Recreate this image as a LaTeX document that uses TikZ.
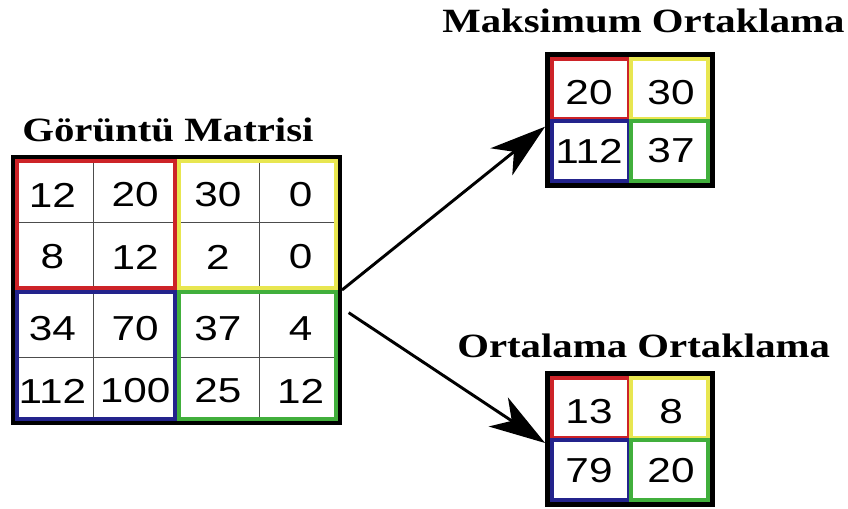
\documentclass[tikz,border=0pt]{standalone}
\usepackage{fontspec}
\setmainfont{Liberation Serif}
\newfontfamily\rakam[FakeStretch=1.22]{Liberation Sans}
\newfontfamily\baslikfont[FakeStretch=1.2]{Liberation Serif Bold}
\usetikzlibrary{arrows.meta}

\definecolor{kirmizi}{RGB}{205,35,40}
\definecolor{sari}{RGB}{232,230,80}
\definecolor{mavi}{RGB}{35,35,140}
\definecolor{yesil}{RGB}{65,175,60}

\begin{document}
\begin{tikzpicture}[x=0.75pt, y=-0.75pt,
    sayi/.style={font=\rakam\fontsize{26}{26}\selectfont, inner sep=0pt},
    baslik/.style={font=\baslikfont\fontsize{25.5}{25.5}\selectfont, anchor=base west, inner sep=0pt},
    cerceve/.style={draw=black, line width=3pt, inner sep=0pt},
    ince/.style={draw=black!70, line width=0.9pt},
    renkli/.style={line width=3pt},
    ok/.style={line width=2.2pt, -{Stealth[length=42pt, width=26pt, inset=12pt]}}]
    \useasboundingbox[fill=white] (0,0) rectangle (848,508);

    % giris matrisi
    \foreach \x in {93.75,259.25} \draw[ince] (\x,157) -- (\x,423);
    \foreach \y in {222.5,357.5} \draw[ince] (13,\y) -- (340,\y);
    \draw[renkli, kirmizi] (17,161) rectangle (174.5,288);
    \draw[renkli, sari] (178.5,161) rectangle (336,288);
    \draw[renkli, mavi] (17,292) rectangle (174.5,419);
    \draw[renkli, yesil] (178.5,292) rectangle (336,419);
    \node[cerceve, minimum width=245.25pt, minimum height=199.5pt] (goruntu) at (176.5,290) {};
    \foreach \y/\liste [count=\r] in {195/{12,20,30,0}, 257/{8,12,2,0}, 329/{34,70,37,4}, 391/{112,100,25,12}}
        \foreach \d [count=\c] in \liste
            \node[sayi] (g-\r-\c) at ({11+82.75*(\c-0.5)},\y) {\d};
    \node[baslik] (gbaslik) at (22,141) {Görüntü Matrisi};

    % maksimum ortaklama
    \draw[renkli, kirmizi] (552,59) rectangle (629,119);
    \draw[renkli, sari] (631,59) rectangle (708,119);
    \draw[renkli, mavi] (552,121) rectangle (629,181);
    \draw[renkli, yesil] (631,121) rectangle (708,181);
    \node[cerceve, line width=3.6pt, minimum width=123.75pt, minimum height=98.25pt] (maks) at (630,120) {};
    \node[sayi] (m-1-1) at (589,93) {20};
    \node[sayi] (m-1-2) at (671,93) {30};
    \node[sayi] (m-2-1) at (589,151) {112};
    \node[sayi] (m-2-2) at (671,151) {37};
    \node[baslik] (mbaslik) at (442,32) {Maksimum Ortaklama};

    % ortalama ortaklama
    \draw[renkli, kirmizi] (552,378) rectangle (629,438);
    \draw[renkli, sari] (631,378) rectangle (708,438);
    \draw[renkli, mavi] (552,440) rectangle (629,500);
    \draw[renkli, yesil] (631,440) rectangle (708,500);
    \node[cerceve, line width=3.6pt, minimum width=123.75pt, minimum height=98.25pt] (ort) at (630,439) {};
    \node[sayi] (o-1-1) at (589,412) {13};
    \node[sayi] (o-1-2) at (671,412) {8};
    \node[sayi] (o-2-1) at (589,471) {79};
    \node[sayi] (o-2-2) at (671,471) {20};
    \node[baslik] (obaslik) at (457,357) {Ortalama Ortaklama};

    % oklar
    \draw[ok] (goruntu.east) -- ([yshift=-5pt]maks.west);
    \draw[ok] ([xshift=5pt, yshift=-17pt]goruntu.east) -- ([yshift=-3pt]ort.west);
\end{tikzpicture}
\end{document}
